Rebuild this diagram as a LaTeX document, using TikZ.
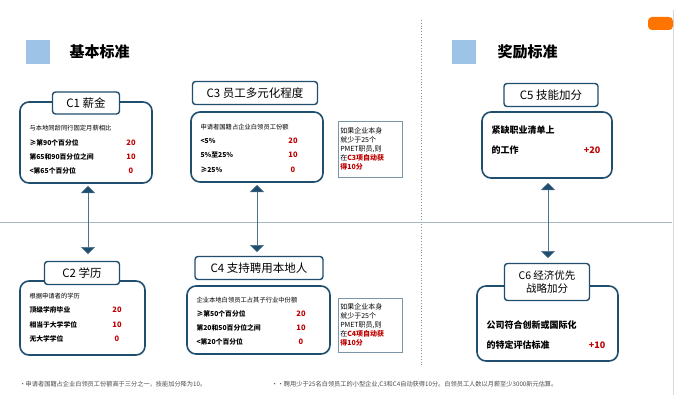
\documentclass[tikz,border=0pt]{standalone}
\usepackage{fontspec}
\setmainfont{Noto Sans CJK SC}
\usetikzlibrary{arrows.meta}
\definecolor{bd}{HTML}{1F4E6E}
\definecolor{rd}{HTML}{C00000}
\definecolor{sq}{HTML}{9DC3E6}
\tikzset{
 mainbox/.style={draw=bd,line width=1.6pt,rounded corners=9pt,fill=white},
 hdr/.style={draw=bd,line width=1.4pt,rounded corners=3pt,fill=white,font=\fontsize{11.5}{13}\selectfont,inner sep=0pt,align=center},
 note/.style={draw=bd!60,line width=0.5pt,fill=white,font=\fontsize{7}{9}\selectfont,align=left,inner sep=2pt,anchor=north west,text width=60pt},
 desc/.style={font=\fontsize{6.3}{7}\selectfont,anchor=west},
 row/.style={font=\bfseries\fontsize{6.8}{8}\selectfont,anchor=west},
 val/.style={font=\bfseries\fontsize{7.5}{8}\selectfont,text=rd},
 big/.style={font=\bfseries\fontsize{9}{10}\selectfont,anchor=west},
 dbl/.style={draw=bd!80,line width=0.5pt,{Triangle[width=14pt,length=7pt,fill=bd]}-{Triangle[width=14pt,length=7pt,fill=bd]}},
 title/.style={font=\bfseries\fontsize{15}{16}\selectfont,anchor=west},
 foot/.style={font=\fontsize{6.2}{7}\selectfont,text=black!70,anchor=west}
}
\begin{document}
\begin{tikzpicture}[x=1pt,y=-1pt]
\useasboundingbox[fill=white] (0,0) rectangle (684,404);
% frame lines
\draw[bd!60,dotted,line width=0.8pt] (421,20) -- (421,366);
\draw[bd!40,line width=0.6pt] (0,222) -- (672,222);
\draw[black!15,line width=0.6pt] (673,10) -- (673,395);
\fill[orange!90!red,rounded corners=4pt] (648,17) rectangle (673,30);
% titles
\fill[sq] (26,40) rectangle (50,64); \node[title] (t1) at (66,52) {基本标准};
\fill[sq] (452,40) rectangle (476,64); \node[title] (t2) at (494,52) {奖励标准};
% C1
\draw[mainbox] (20,102) rectangle (152,183);
\node[hdr,minimum width=67pt,minimum height=22pt] (h1) at (86,103) {C1 薪金};
\node[desc] (c1d) at (26,128) {与本地同龄同行固定月薪相比};
\node[row] at (26,143) {≥第90个百分位}; \node[val] at (131,143) {20};
\node[row] at (26,157) {第65和90百分位之间}; \node[val] at (131,157) {10};
\node[row] at (26,171) {<第65个百分位}; \node[val] at (131,171) {0};
% C2
\draw[mainbox] (20,281) rectangle (145,355);
\node[hdr,minimum width=75pt,minimum height=23pt] (h2) at (82,273) {C2 学历};
\node[desc] at (26,296) {根据申请者的学历};
\node[row] at (26,310) {顶级学府毕业}; \node[val] at (117,310) {20};
\node[row] at (26,325) {相当于大学学位}; \node[val] at (117,325) {10};
\node[row] at (26,339) {无大学学位}; \node[val] at (117,339) {0};
% C3
\draw[mainbox] (191,112) rectangle (323,182);
\node[hdr,minimum width=125pt,minimum height=23pt] (h3) at (255,93) {C3 员工多元化程度};
\node[desc] at (197,127) {申请者国籍占企业白领员工份额};
\node[row] at (197,141) {<5\%}; \node[val] at (293,141) {20};
\node[row] at (197,155) {5\%至25\%}; \node[val] at (293,155) {10};
\node[row] at (197,170) {≥25\%}; \node[val] at (293,170) {0};
\node[note,minimum height=56pt] (n3) at (338,121) {如果企业本身\\就少于25个\\PMET职员,则\\在\textcolor{rd}{\bfseries C3项自动获}\\\textcolor{rd}{\bfseries 得10分}};
% C4
\draw[mainbox] (187,286) rectangle (330,354);
\node[hdr,minimum width=128pt,minimum height=23pt] (h4) at (259,268) {C4 支持聘用本地人};
\node[desc] at (193,300) {企业本地白领员工占其子行业中份额};
\node[row] at (193,314) {≥第50个百分位}; \node[val] at (301,314) {20};
\node[row] at (193,328) {第20和50百分位之间}; \node[val] at (301,328) {10};
\node[row] at (193,342) {<第20个百分位}; \node[val] at (301,342) {0};
\node[note,minimum height=54pt] (n4) at (338,298) {如果企业本身\\就少于25个\\PMET职员,则\\在\textcolor{rd}{\bfseries C4项自动获}\\\textcolor{rd}{\bfseries 得10分}};
% C5
\draw[mainbox] (482,112) rectangle (612,178);
\node[hdr,minimum width=94pt,minimum height=23pt] (h5) at (551,95) {C5 技能加分};
\node[big] at (488,130) {紧缺职业清单上};
\node[big] at (488,150) {的工作};
\node[val,font=\bfseries\fontsize{9}{10}\selectfont] at (592,150) {+20};
% C6
\draw[mainbox] (477,286) rectangle (618,361);
\node[hdr,minimum width=85pt,minimum height=37pt,font=\fontsize{10.5}{12.5}\selectfont] (h6) at (547,282) {C6 经济优先\\战略加分};
\node[big] at (483,325) {公司符合创新或国际化};
\node[big] at (483,345) {的特定评估标准};
\node[val,font=\bfseries\fontsize{9}{10}\selectfont] at (597,345) {+10};
% arrows
\coordinate (a1) at (88,186); \coordinate (b1) at (88,254);
\draw[dbl] (a1) -- (b1);
\coordinate (a3) at (257,185); \coordinate (b3) at (257,252);
\draw[dbl] (a3) -- (b3);
\coordinate (a5) at (548,183); \coordinate (b5) at (548,258);
\draw[dbl] (a5) -- (b5);
% footer
\node[foot] at (16,384) {•申请者国籍占企业白领员工份额高于三分之一，技能加分降为10。};
\node[foot] at (268,384) {••聘用少于25名白领员工的小型企业,C3和C4自动获得10分。白领员工人数以月薪至少3000新元估算。};
\end{tikzpicture}
\end{document}
